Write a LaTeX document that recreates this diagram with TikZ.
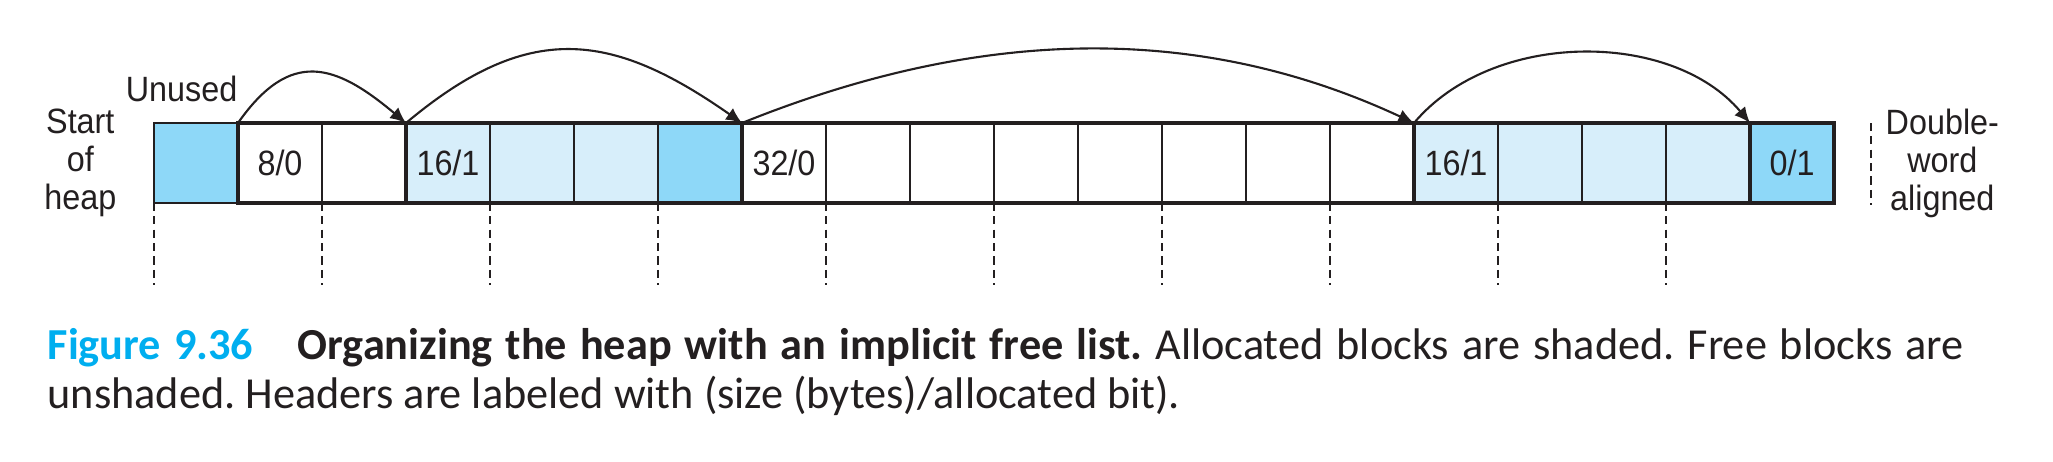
\documentclass[tikz,border=0pt]{standalone}
\usepackage{fontspec}
\setmainfont[FakeStretch=0.92]{Liberation Sans}
\newfontfamily\captionfont{Carlito}
\usepackage{tikz}
\usetikzlibrary{positioning, arrows.meta}
\definecolor{heapblue}{HTML}{8ED8F8}
\definecolor{heaplight}{HTML}{D7EEFA}
\definecolor{figcyan}{HTML}{00AEEF}
\definecolor{ink}{HTML}{231F20}
\tikzstyle{word} = [rectangle, minimum width=0.84cm, minimum height=0.8cm, inner sep=0pt, outer sep=0pt, draw=ink, line width=0.5pt, text=ink, font=\fontsize{10}{11}\selectfont]
\tikzstyle{freeword} = [word, fill=white]
\tikzstyle{allocword} = [word, fill=heaplight]
\tikzstyle{padword} = [word, fill=heapblue]
\tikzstyle{sidelabel} = [inner sep=0pt, align=center, text=ink, font=\fontsize{10}{10.8}\selectfont]
\tikzstyle{blockline} = [draw=ink, line width=1pt]
\tikzstyle{guide} = [draw=ink, line width=0.5pt, dash pattern=on 2.3pt off 1.5pt]
\tikzstyle{arrow} = [draw=ink, line width=0.6pt, -{Latex[length=4.5pt,width=4pt]}]

\begin{document}
\frenchspacing
\begin{tikzpicture}[node distance=0cm]
	\useasboundingbox (0,0) rectangle (20.53,4.61);
	% heap words
	\node (c0) [padword, anchor=south west] at (1.54,2.58) {};
	\node (c1) [freeword, right=of c0] {8/0};
	\node (c2) [freeword, right=of c1] {};
	\node (c3) [allocword, right=of c2] {16/1};
	\node (c4) [allocword, right=of c3] {};
	\node (c5) [allocword, right=of c4] {};
	\node (c6) [padword, right=of c5] {};
	\node (c7) [freeword, right=of c6] {32/0};
	\node (c8) [freeword, right=of c7] {};
	\node (c9) [freeword, right=of c8] {};
	\node (c10) [freeword, right=of c9] {};
	\node (c11) [freeword, right=of c10] {};
	\node (c12) [freeword, right=of c11] {};
	\node (c13) [freeword, right=of c12] {};
	\node (c14) [freeword, right=of c13] {};
	\node (c15) [allocword, right=of c14] {16/1};
	\node (c16) [allocword, right=of c15] {};
	\node (c17) [allocword, right=of c16] {};
	\node (c18) [allocword, right=of c17] {};
	\node (c19) [padword, right=of c18] {0/1};

	% block outlines
	\draw [blockline] (c1.south west) rectangle (c2.north east);
	\draw [blockline] (c3.south west) rectangle (c6.north east);
	\draw [blockline] (c7.south west) rectangle (c14.north east);
	\draw [blockline] (c15.south west) rectangle (c18.north east);
	\draw [blockline] (c19.south west) rectangle (c19.north east);

	\node (start) [sidelabel, left=0.37cm of c0] {Start\\of\\heap};
	\node (unused) [sidelabel, above left=0.2cm and 0cm of c0.north east] {Unused};
	\node (aligned) [sidelabel, right=0.51cm of c19] {Double-\\word\\aligned};

	% double-word boundaries
	\draw [guide] (c0.south west) -- +(0,-0.82) (c2.south west) -- +(0,-0.82)
		(c4.south west) -- +(0,-0.82) (c6.south west) -- +(0,-0.82)
		(c8.south west) -- +(0,-0.82) (c10.south west) -- +(0,-0.82)
		(c12.south west) -- +(0,-0.82) (c14.south west) -- +(0,-0.82)
		(c16.south west) -- +(0,-0.82) (c18.south west) -- +(0,-0.82);
	\draw [guide] ([xshift=0.37cm]c19.north east) -- ([xshift=0.37cm,yshift=-0.02cm]c19.south east);

	% implicit links
	\draw [arrow] (c1.north west) to[out=55, in=140, looseness=1.4] (c3.north west);
	\draw [arrow] (c3.north west) to[out=40, in=145, looseness=1.22] (c7.north west);
	\draw [arrow] (c7.north west) to[out=22, in=155, looseness=0.94] (c15.north west);
	\draw [arrow] (c15.north west) to[out=50, in=130, looseness=0.93] (c19.north west);

	\node (caption) [anchor=base west, text width=19.16cm, align=justify, inner sep=0pt, text=ink, font=\captionfont\fontsize{12.6}{14.2}\selectfont] at (0.47,1.02) {\textcolor{figcyan}{\bfseries Figure 9.36}\quad{\bfseries Organizing the heap with an implicit free list.} Allocated blocks are shaded. Free blocks are\linebreak unshaded. Headers are labeled with (size (bytes)/allocated bit).};
\end{tikzpicture}
\end{document}
